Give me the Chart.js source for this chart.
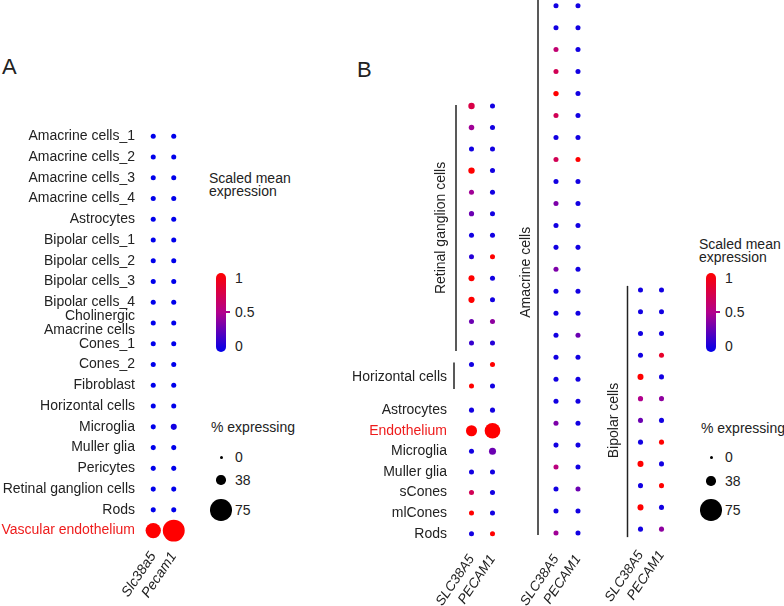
<!DOCTYPE html>
<html>
<head>
<meta charset="utf-8">
<script src="https://cdn.jsdelivr.net/npm/chart.js@4"></script>
<style>
  body { margin: 0; width: 784px; height: 606px; background: #fff; position: relative; overflow: hidden;
         font-family: "Liberation Sans", Arial, sans-serif; color: #222; }
  canvas { position: absolute; }
  .txt { position: absolute; font-size: 14px; line-height: 13px; white-space: nowrap; }
  .panel { position: absolute; font-size: 22px; line-height: 22px; }
  .bar { position: absolute; width: 10px; border-radius: 5px; }
  .dot { position: absolute; border-radius: 50%; background: #000; }
</style>
</head>
<body>
<div class="panel" style="left:2px; top:56px;">A</div>
<div class="panel" style="left:357px; top:59px;">B</div>

<canvas id="chartA"></canvas>
<canvas id="chartRgc"></canvas>
<canvas id="chartOther"></canvas>
<canvas id="chartAma"></canvas>
<canvas id="chartBip"></canvas>

<script>
// --- datos ---
const genesA = ['Slc38a5', 'Pecam1'];
const genesB = ['SLC38A5', 'PECAM1'];

// Panel A (raton)
const rowsA = ['Amacrine cells_1', 'Amacrine cells_2', 'Amacrine cells_3', 'Amacrine cells_4', 'Astrocytes',
  'Bipolar cells_1', 'Bipolar cells_2', 'Bipolar cells_3', 'Bipolar cells_4', 'Cholinergic Amacrine cells',
  'Cones_1', 'Cones_2', 'Fibroblast', 'Horizontal cells', 'Microglia', 'Muller glia', 'Pericytes',
  'Retinal ganglion cells', 'Rods', 'Vascular endothelium'];
const exprA_slc = [0, 0, 0, 0, 0, 0, 0, 0, 0, 0, 0, 0, 0, 0, 0, 0, 0, 0, 0, 1];
const exprA_pec = [0, 0, 0, 0, 0, 0, 0, 0, 0, 0, 0, 0, 0, 0, 0.05, 0, 0, 0, 0, 1];
const pctA_slc = [12, 12, 12, 12, 12, 12, 12, 12, 12, 12, 12, 12, 12, 12, 12, 12, 12, 12, 12, 56];
const pctA_pec = [12, 12, 12, 12, 12, 12, 12, 12, 12, 12, 12, 12, 12, 12, 18, 12, 12, 12, 12, 76];

// Panel B - ganglionares + horizontales
const rowsRgc = ['RGC_1', 'RGC_2', 'RGC_3', 'RGC_4', 'RGC_5', 'RGC_6', 'RGC_7', 'RGC_8', 'RGC_9', 'RGC_10',
  'RGC_11', 'RGC_12', 'HC_1', 'HC_2'];
const exprRgc_slc = [0.75, 0.45, 0.05, 1, 0.45, 0.3, 0.05, 0.1, 1, 1, 0.3, 0.15, 0.05, 1];
const exprRgc_pec = [0.05, 0.05, 0.05, 0.05, 0.05, 0.05, 0.05, 1, 0.05, 0.05, 0.4, 0.1, 1, 0.05];
const pctRgc_slc = [20, 15, 12, 20, 12, 13, 12, 12, 18, 19, 12, 12, 12, 12];
const pctRgc_pec = [12, 12, 12, 12, 12, 12, 12, 12, 12, 12, 12, 12, 12, 12];

// Panel B - resto de tipos
const rowsOther = ['Astrocytes', 'Endothelium', 'Microglia', 'Muller glia', 'sCones', 'mlCones', 'Rods'];
const exprOther_slc = [0.05, 1, 0.05, 0.05, 0.7, 1, 0.05];
const exprOther_pec = [0.05, 1, 0.3, 0.05, 0.05, 0.05, 1];
const pctOther_slc = [12, 43, 12, 12, 12, 12, 12];
const pctOther_pec = [12, 57, 24, 12, 12, 12, 12];

// Panel B - amacrinas (25 clusters)
const rowsAma = ['AC_1', 'AC_2', 'AC_3', 'AC_4', 'AC_5', 'AC_6', 'AC_7', 'AC_8', 'AC_9', 'AC_10', 'AC_11', 'AC_12',
  'AC_13', 'AC_14', 'AC_15', 'AC_16', 'AC_17', 'AC_18', 'AC_19', 'AC_20', 'AC_21', 'AC_22', 'AC_23', 'AC_24', 'AC_25'];
const exprAma_slc = [0.05, 0.05, 0.6, 0.7, 1, 0.7, 0.05, 0.7, 0.05, 0.35, 0.05, 0.05, 0.35,
  0.05, 0.05, 0.05, 0.05, 0.05, 0.05, 0.35, 0.05, 0.55, 0.05, 0.05, 0.45];
const exprAma_pec = [0.05, 0.05, 0.05, 0.05, 0.05, 0.05, 0.05, 1, 0.05, 0.05, 0.05, 0.05, 0.05,
  0.05, 0.05, 0.3, 0.05, 0.05, 0.05, 0.05, 0.05, 0.05, 0.3, 0.05, 0.05];
const pctAma_slc = [12, 12, 12, 12, 14, 12, 12, 12, 12, 12, 12, 12, 12, 12, 12, 12, 12, 12, 12, 12, 12, 12, 12, 12, 12];
const pctAma_pec = [12, 12, 12, 12, 12, 12, 12, 12, 12, 12, 12, 12, 12, 12, 12, 12, 12, 12, 12, 12, 12, 12, 12, 12, 12];

// Panel B - bipolares (12 clusters)
const rowsBip = ['BC_1', 'BC_2', 'BC_3', 'BC_4', 'BC_5', 'BC_6', 'BC_7', 'BC_8', 'BC_9', 'BC_10', 'BC_11', 'BC_12'];
const exprBip_slc = [0.05, 0.05, 0.05, 0.05, 1, 0.5, 0.3, 0.05, 1, 0.05, 1, 0.05];
const exprBip_pec = [0.05, 0.05, 0.05, 0.85, 0.05, 0.4, 0.05, 1, 0.05, 1, 0.05, 0.4];
const pctBip_slc = [12, 12, 12, 12, 18, 13, 12, 12, 18, 12, 18, 12];
const pctBip_pec = [12, 12, 12, 12, 12, 12, 12, 12, 12, 12, 12, 12];

// leyendas
const pctLegend = [0, 38, 75];
const exprTicks = [0, 0.5, 1];

// --- escalas de color y tamano ---
const FONT = '"Liberation Sans", Arial, sans-serif';
const colorStops = [[0, [0, 0, 235]], [0.5, [178, 0, 140]], [1, [255, 0, 0]]];
const legendRadii = [1.5, 4.7, 10.8];

function colorOf(v) {
    let i = 0;
    while (i < colorStops.length - 2 && v > colorStops[i + 1][0]) i++;
    const [v0, c0] = colorStops[i], [v1, c1] = colorStops[i + 1];
    const t = Math.min(1, Math.max(0, (v - v0) / (v1 - v0)));
    const c = c0.map((a, k) => Math.round(a + (c1[k] - a) * t));
    return `rgb(${c[0]},${c[1]},${c[2]})`;
}

function radiusOf(p) {
    const b = pctLegend, r = legendRadii;
    let i = p <= b[1] ? 0 : 1;
    return r[i] + (r[i + 1] - r[i]) * (p - b[i]) / (b[i + 1] - b[i]);
}

const wrapLabels = { 'Cholinergic Amacrine cells': ['Cholinergic', 'Amacrine cells'] };

// corchetes de grupo (lineas verticales + etiqueta)
const bracketPlugin = {
    id: 'brackets',
    afterDraw(chart, args, opts) {
        const groups = opts.groups || [];
        const y = chart.scales.y;
        const ctx = chart.ctx;
        groups.forEach(g => {
            const y1 = y.getPixelForValue(y.getLabels().indexOf(g.from)) + g.ext[0];
            const y2 = y.getPixelForValue(y.getLabels().indexOf(g.to)) + g.ext[1];
            const x = chart.chartArea.left + g.dx;
            ctx.save();
            ctx.strokeStyle = '#222';
            ctx.lineWidth = 1.5;
            ctx.beginPath();
            ctx.moveTo(x, y1);
            ctx.lineTo(x, y2);
            ctx.stroke();
            ctx.fillStyle = '#222';
            ctx.font = '14px ' + FONT;
            ctx.textBaseline = 'middle';
            const cy = (y1 + y2) / 2 + (g.ty || 0);
            if (g.rotate) {
                ctx.translate(x + g.tx, cy);
                ctx.rotate(-Math.PI / 2);
                ctx.textAlign = 'center';
                ctx.fillText(g.text, 0, 0);
            } else {
                ctx.textAlign = 'right';
                ctx.fillText(g.text, x + g.tx, cy);
            }
            ctx.restore();
        });
    }
};

function dotChart(id, box, rows, genes, expr, pct, opts) {
    const canvas = document.getElementById(id);
    const padR = 12;
    const xH = box.xH || 0;
    canvas.width = box.yW + (box.right - box.left) + padR;
    canvas.height = (box.bottom - box.top) + xH;
    canvas.style.left = (box.left - box.yW) + 'px';
    canvas.style.top = box.top + 'px';

    const puntos = [];
    rows.forEach((fila, i) => {
        genes.forEach((gen, j) => {
            puntos.push({ x: gen, y: fila, r: radiusOf(pct[j][i]), v: expr[j][i] });
        });
    });

    return new Chart(canvas, {
        type: 'bubble',
        data: {
            datasets: [{
                data: puntos,
                backgroundColor: c => colorOf(c.raw ? c.raw.v : 0),
                borderWidth: 0,
                hoverRadius: 0,
                clip: false
            }]
        },
        options: {
            responsive: false,
            animation: false,
            events: [],
            layout: { padding: { left: 0, top: 0, bottom: 0, right: padR } },
            plugins: {
                legend: { display: false },
                tooltip: { enabled: false },
                brackets: { groups: opts.groups || [] }
            },
            scales: {
                x: {
                    type: 'category', labels: genes, offset: true, display: xH > 0,
                    grid: { display: false, drawTicks: false }, border: { display: false },
                    ticks: {
                        autoSkip: false, minRotation: 56, maxRotation: 56, padding: opts.xPad || 8,
                        color: '#222', font: { family: FONT, size: opts.xFont || 13.5, style: 'italic' }
                    },
                    afterFit: s => { s.height = xH; s.paddingLeft = 0; s.paddingRight = 0; }
                },
                y: {
                    type: 'category', labels: rows, offset: true, display: true,
                    grid: { display: false, drawTicks: false }, border: { display: false },
                    ticks: {
                        display: !!opts.showLabels, autoSkip: false, padding: opts.yPad || 6,
                        color: c => rows[c.index] === opts.highlight ? '#ee1c1c' : '#222',
                        font: { family: FONT, size: 14, lineHeight: 0.95 },
                        callback: function (v) {
                            const l = this.getLabelForValue(v);
                            return wrapLabels[l] || l;
                        }
                    },
                    afterFit: s => { s.width = box.yW; s.paddingTop = 0; s.paddingBottom = 0; }
                }
            }
        },
        plugins: [bracketPlugin]
    });
}

// --- Panel A ---
dotChart('chartA', { left: 143, right: 184, top: 115, bottom: 541, yW: 143, xH: 65 },
    rowsA, genesA, [exprA_slc, exprA_pec], [pctA_slc, pctA_pec],
    { showLabels: true, yPad: 8, highlight: 'Vascular endothelium', xFont: 14 });

// --- Panel B ---
dotChart('chartRgc', { left: 461, right: 503, top: 92, bottom: 400, yW: 120 },
    rowsRgc, genesB, [exprRgc_slc, exprRgc_pec], [pctRgc_slc, pctRgc_pec],
    { groups: [
        { from: 'RGC_1', to: 'RGC_12', ext: [-1, 8], dx: -5, tx: -15, rotate: true, text: 'Retinal ganglion cells' },
        { from: 'HC_1', to: 'HC_2', ext: [-2, 3], dx: -7, tx: -7, ty: 1.5, text: 'Horizontal cells' }
    ] });

dotChart('chartOther', { left: 461, right: 503, top: 392, bottom: 544, yW: 120, xH: 62 },
    rowsOther, genesB, [exprOther_slc, exprOther_pec], [pctOther_slc, pctOther_pec],
    { showLabels: true, yPad: 14, highlight: 'Endothelium' });

dotChart('chartAma', { left: 545, right: 589, top: -8, bottom: 544, yW: 40, xH: 62 },
    rowsAma, genesB, [exprAma_slc, exprAma_pec], [pctAma_slc, pctAma_pec],
    { groups: [
        { from: 'AC_1', to: 'AC_25', ext: [-12, 2], dx: -7, tx: -12, ty: 8, rotate: true, text: 'Amacrine cells' }
    ] });

dotChart('chartBip', { left: 630, right: 672, top: 276, bottom: 540, yW: 40, xH: 66 },
    rowsBip, genesB, [exprBip_slc, exprBip_pec], [pctBip_slc, pctBip_pec],
    { groups: [
        { from: 'BC_1', to: 'BC_12', ext: [-4, 8], dx: -2.5, tx: -13, ty: 9, rotate: true, text: 'Bipolar cells' }
    ] });

// --- Leyendas (color + tamano) ---
function addText(txt, x, y, extra) {
    const d = document.createElement('div');
    d.className = 'txt';
    d.textContent = txt;
    d.style.left = x + 'px';
    d.style.top = y + 'px';
    if (extra) Object.assign(d.style, extra);
    document.body.appendChild(d);
    return d;
}

function addLegend(x0, titleTop, expTop, dotYs) {
    addText('Scaled mean', x0, titleTop);
    addText('expression', x0, titleTop + 13);

    // barra de color
    const barX = x0 + 6.5, barTop = 273, barH = 79;
    const bar = document.createElement('div');
    bar.className = 'bar';
    bar.style.left = barX + 'px';
    bar.style.top = barTop + 'px';
    bar.style.height = barH + 'px';
    const stops = colorStops.map(s => `${colorOf(s[0])} ${s[0] * 100}%`).join(', ');
    bar.style.background = `linear-gradient(to top, ${stops})`;
    document.body.appendChild(bar);

    const y0 = barTop + barH - 6, y1 = barTop + 5;
    exprTicks.forEach(v => {
        const y = y0 - (y0 - y1) * v;
        addText(String(v), x0 + 26, y - 6.5);
        if (v > 0 && v < 1) {
            const m = document.createElement('div');
            m.style.cssText = `position:absolute; left:${barX + 10}px; top:${y - 0.75}px; width:4px; height:1.5px; background:${colorOf(v)};`;
            document.body.appendChild(m);
        }
    });

    addText('% expressing', x0 + 2, expTop);
    pctLegend.forEach((p, i) => {
        const r = radiusOf(p);
        const cx = x0 + 12;
        const d = document.createElement('div');
        d.className = 'dot';
        d.style.left = (cx - r) + 'px';
        d.style.top = (dotYs[i] - r) + 'px';
        d.style.width = (2 * r) + 'px';
        d.style.height = (2 * r) + 'px';
        document.body.appendChild(d);
        addText(String(p), x0 + 26, dotYs[i] - 6.5);
    });
}

addLegend(209, 171.5, 420.5, [457, 480, 510]);
addLegend(699, 237.5, 421.5, [457, 481, 510]);
</script>
</body>
</html>
